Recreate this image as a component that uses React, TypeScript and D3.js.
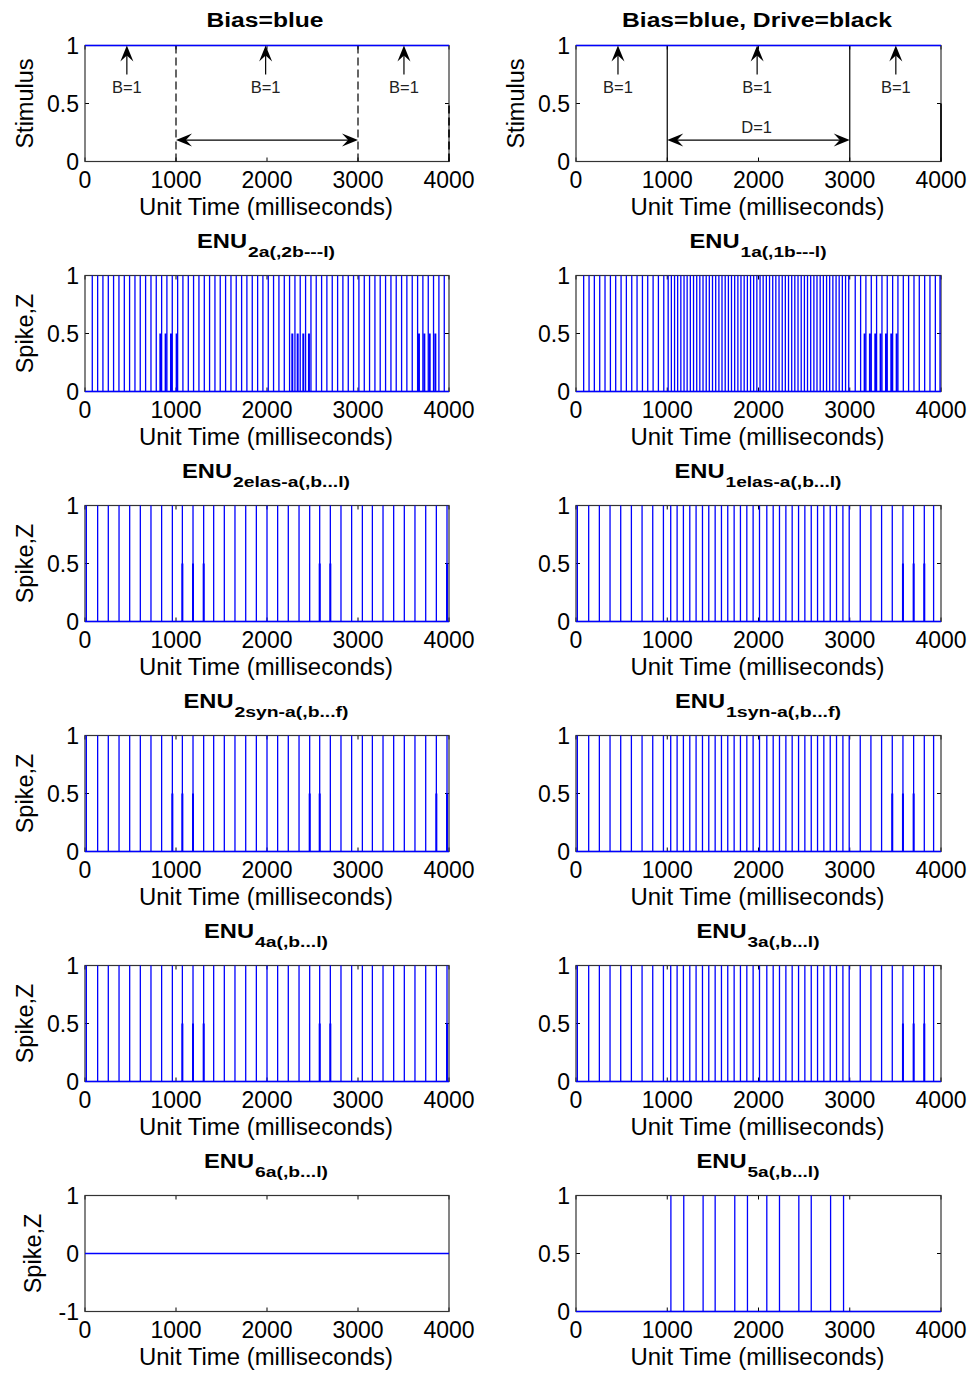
import React from 'react';
import * as d3 from 'd3';

// ---------------- data ----------------
const xTickValues = [0, 1000, 2000, 3000, 4000];
const spikeYTicks = [0, 0.5, 1];
const silentYTicks = [-1, 0, 1];

const stimTitles = ['Bias=blue', 'Bias=blue, Drive=black'];
const biasLevel = 1;
const driveEdges = [1000, 3000];
const driveTailTime = 4000;
const driveTailLevel = 0.5;
const biasArrowTimes = [460, 1985, 3505];
const biasArrowBase = 0.75;
const biasLabel = 'B=1';
const biasLabelLevel = 0.64;
const driveArrowLevel = 0.185;
const driveLabel = 'D=1';
const driveLabelLevel = 0.3;

// ENU2a (left, row 2)
const enu2aFull = [80, 139, 197, 256, 314, 373, 432, 490, 549, 607, 666, 725, 783, 842, 900, 959, 1018, 1076, 1135, 1193, 1252, 1311, 1369, 1428, 1486, 1545, 1604, 1662, 1721, 1779, 1838, 1897, 1955, 2014, 2072, 2131, 2190, 2248, 2307, 2365, 2424, 2483, 2541, 2600, 2658, 2717, 2776, 2834, 2893, 2951, 3010, 3069, 3127, 3186, 3244, 3303, 3362, 3420, 3479, 3537, 3596, 3655, 3713, 3772, 3830, 3889, 3948];
const enu2aZ = [828, 886, 945, 1007, 2278, 2337, 2399, 2461, 3670, 3729, 3788, 3850];

// ENU1a (right, row 2)
const enu1aFull = [84, 143, 201, 260, 318, 377, 435, 494, 552, 611, 669, 728, 786, 845, 903, 962,
  1010, 1045, 1080, 1114, 1149, 1184, 1218, 1253, 1288, 1323, 1357, 1392, 1427, 1461, 1496, 1531, 1566, 1600, 1635, 1670, 1704, 1739, 1774, 1808, 1843, 1878, 1913, 1947, 1982, 2017, 2051, 2086, 2121, 2156, 2190, 2225, 2260, 2294, 2329, 2364, 2398, 2433, 2468, 2503, 2537, 2572, 2607, 2641, 2676, 2711, 2746, 2780, 2815, 2850, 2884, 2919, 2954, 2989,
  3060, 3119, 3177, 3236, 3294, 3353, 3411, 3470, 3528, 3587, 3645, 3704, 3762, 3821, 3879, 3938, 3989];
const enu1aZ = [3163, 3221, 3280, 3338, 3397, 3455, 3514];

// left trains: ENU2elas-a, ENU2syn-a, ENU4a
const leftTrainFull = [15, 139, 256, 374, 491, 608, 725, 842, 960, 1070, 1187, 1304, 1414, 1531, 1648, 1766, 1883, 2000, 2117, 2234, 2352, 2469, 2579, 2696, 2813, 2930, 3048, 3158, 3275, 3392, 3509, 3626, 3744, 3861, 3978];
const enu2elasZ = [1070, 1187, 1304, 2579, 2696, 3978];
const enu2synZ = [960, 1070, 1187, 2469, 2579, 3861, 3978];
const enu4aZ = [1070, 1187, 1304, 2579, 2696, 3978];

// right trains: ENU1elas-a, ENU1syn-a, ENU3a
const rightTrainFull = [15, 139, 256, 373, 490, 607, 724, 841, 958, 1038, 1108, 1177, 1247, 1316, 1386, 1455, 1525, 1594, 1663, 1733, 1802, 1872, 1941, 2011, 2091, 2161, 2230, 2300, 2369, 2439, 2508, 2578, 2647, 2716, 2786, 2855, 2925, 2994, 3115, 3232, 3349, 3466, 3583, 3700, 3817, 3919];
const enu1elasZ = [3583, 3700, 3817];
const enu1synZ = [3466, 3583, 3700];
const enu3aZ = [3583, 3700, 3817];

// bottom row
const enu6aFull: number[] = [];
const enu5aFull = [1040, 1181, 1393, 1525, 1740, 1879, 2091, 2230, 2442, 2578, 2790, 2932];

const subtitleLeft = ['2a(,2b---l)', '2elas-a(,b...l)', '2syn-a(,b...f)', '4a(,b...l)', '6a(,b...l)'];
const subtitleRight = ['1a(,1b---l)', '1elas-a(,b...l)', '1syn-a(,b...f)', '3a(,b...l)', '5a(,b...l)'];

// ---------------- layout ----------------
const FONT = '"Liberation Sans", Arial, Helvetica, sans-serif';
const BLUE = '#0000ff';
const COLS = [
  { left: 85, width: 364, center: 266 },
  { left: 576, width: 365, center: 758 },
];
const PLOT_H = 116;
const rowTop = (r: number) => 45.5 + 230 * r;
const subW = [[87, 86], [117, 116], [114, 115], [73, 72], [73, 72]];

function arrowHead(tx: number, ty: number, angle: number, L = 16, W = 13) {
  const pts = [[0, 0], [-L, -W / 2], [-L * 0.62, 0], [-L, W / 2]];
  const c = Math.cos(angle), s = Math.sin(angle);
  return 'M' + pts.map(([px, py]) => `${tx + px * c - py * s},${ty + px * s + py * c}`).join('L') + 'Z';
}

type AxProps = {
  col: number; row: number; yDomain: [number, number]; yTicks: number[];
  yLabel?: string; yLabelOffset?: number;
  render: (x: d3.ScaleLinear<number, number>, y: d3.ScaleLinear<number, number>) => React.ReactNode;
};

function Axes({ col, row, yDomain, yTicks, yLabel, yLabelOffset = 52, render }: AxProps) {
  const { left, width } = COLS[col];
  const top = rowTop(row);
  const bottom = top + PLOT_H;
  const x = d3.scaleLinear().domain([0, 4000]).range([left, left + width]);
  const y = d3.scaleLinear().domain(yDomain).range([bottom, top]);
  const tl = 4;
  return (
    <g>
      {xTickValues.map((v) => (
        <g key={'xt' + v}>
          <line x1={x(v)} x2={x(v)} y1={bottom} y2={bottom - tl} stroke="#000" />
          <line x1={x(v)} x2={x(v)} y1={top} y2={top + tl} stroke="#000" />
        </g>
      ))}
      {yTicks.map((v) => (
        <g key={'yt' + v}>
          <line x1={left} x2={left + tl} y1={y(v)} y2={y(v)} stroke="#000" />
          <line x1={left + width} x2={left + width - tl} y1={y(v)} y2={y(v)} stroke="#000" />
        </g>
      ))}
      <rect x={left} y={top} width={width} height={PLOT_H} fill="none" stroke="#333" strokeWidth={1.2} />
      {render(x, y)}
      {xTickValues.map((v) => (
        <text key={'xl' + v} x={x(v)} y={bottom + 26} textAnchor="middle" fontSize={23} fontFamily={FONT}>{String(v)}</text>
      ))}
      {yTicks.map((v) => (
        <text key={'yl' + v} x={left - 6} y={y(v)} dy="0.36em" textAnchor="end" fontSize={23} fontFamily={FONT}>{String(v)}</text>
      ))}
      <text x={(left + left + width) / 2 - 1} y={bottom + 53.5} textAnchor="middle" fontSize={23} fontFamily={FONT}
        textLength={254} lengthAdjust="spacingAndGlyphs">Unit Time (milliseconds)</text>
      {yLabel && (
        <text transform={`translate(${left - yLabelOffset},${(top + bottom) / 2}) rotate(-90)`} textAnchor="middle" fontSize={23.5} fontFamily={FONT}>{yLabel}</text>
      )}
    </g>
  );
}

function spikes(x: d3.ScaleLinear<number, number>, y: d3.ScaleLinear<number, number>, full: number[], z: number[], key: string) {
  return (
    <g key={key}>
      <line x1={x(0)} x2={x(4000)} y1={y(0)} y2={y(0)} stroke={BLUE} strokeWidth={1.5} />
      {full.map((t, i) => (
        <line key={'f' + i} x1={x(t)} x2={x(t)} y1={y(0)} y2={y(1)} stroke={BLUE} strokeWidth={1.3} />
      ))}
      {z.map((t, i) => (
        <line key={'z' + i} x1={x(t)} x2={x(t)} y1={y(0)} y2={y(0.5)} stroke={BLUE} strokeWidth={2} />
      ))}
    </g>
  );
}

function stimulus(x: d3.ScaleLinear<number, number>, y: d3.ScaleLinear<number, number>, withDrive: boolean) {
  const dash = withDrive ? undefined : '8,4';
  const ha = y(driveArrowLevel);
  return (
    <g>
      {driveEdges.map((t) => (
        <line key={'d' + t} x1={x(t)} x2={x(t)} y1={y(0)} y2={y(1)} stroke="#000" strokeWidth={1.2} strokeDasharray={dash} />
      ))}
      <line x1={x(driveTailTime)} x2={x(driveTailTime)} y1={y(0)} y2={y(driveTailLevel)} stroke="#000" strokeWidth={1.6} strokeDasharray={dash} />
      <line x1={x(0)} x2={x(4000)} y1={y(biasLevel)} y2={y(biasLevel)} stroke={BLUE} strokeWidth={1.5} />
      {biasArrowTimes.map((t) => (
        <g key={'a' + t}>
          <line x1={x(t)} x2={x(t)} y1={y(biasArrowBase)} y2={y(1) + 8} stroke="#000" strokeWidth={1.2} />
          <path d={arrowHead(x(t), y(1), -Math.PI / 2)} fill="#000" />
          <text x={x(t)} y={y(biasLabelLevel)} dy="0.36em" textAnchor="middle" fontSize={16.5} fontFamily={FONT} fill="#222">{biasLabel}</text>
        </g>
      ))}
      <line x1={x(driveEdges[0]) + 8} x2={x(driveEdges[1]) - 8} y1={ha} y2={ha} stroke="#000" strokeWidth={1.2} />
      <path d={arrowHead(x(driveEdges[0]), ha, Math.PI)} fill="#000" />
      <path d={arrowHead(x(driveEdges[1]), ha, 0)} fill="#000" />
      {withDrive && (
        <text x={x((driveEdges[0] + driveEdges[1]) / 2 - 20)} y={y(driveLabelLevel)} dy="0.36em" textAnchor="middle" fontSize={16.5} fontFamily={FONT} fill="#222">{driveLabel}</text>
      )}
    </g>
  );
}

function Subtitle({ col, row, sub }: { col: number; row: number; sub: string }) {
  const enuW = 50;
  const sw = subW[row - 1][col];
  const total = enuW + 1 + sw;
  const start = COLS[col].center - total / 2;
  const base = rowTop(row) - 27.5;
  return (
    <g fontFamily={FONT} fontWeight="bold">
      <text x={start} y={base} fontSize={19.5} textLength={enuW} lengthAdjust="spacingAndGlyphs">ENU</text>
      <text x={start + enuW + 1} y={base + 9} fontSize={14.5} textLength={sw} lengthAdjust="spacingAndGlyphs">{sub}</text>
    </g>
  );
}

export default function App() {
  const leftData = [
    [enu2aFull, enu2aZ],
    [leftTrainFull, enu2elasZ],
    [leftTrainFull, enu2synZ],
    [leftTrainFull, enu4aZ],
    [enu6aFull, [] as number[]],
  ];
  const rightData = [
    [enu1aFull, enu1aZ],
    [rightTrainFull, enu1elasZ],
    [rightTrainFull, enu1synZ],
    [rightTrainFull, enu3aZ],
    [enu5aFull, [] as number[]],
  ];
  return (
    <svg width={974} height={1373} style={{ position: 'absolute', left: 0, top: 0, background: '#fff' }}>
      <rect x={0} y={0} width={974} height={1373} fill="#fff" />
      {stimTitles.map((t, c) => (
        <text key={'tt' + c} x={COLS[c].center - 1} y={27} textAnchor="middle" fontSize={19.5} fontWeight="bold" fontFamily={FONT}
          textLength={c === 0 ? 117 : 270} lengthAdjust="spacingAndGlyphs">{t}</text>
      ))}
      <Axes col={0} row={0} yDomain={[0, 1]} yTicks={spikeYTicks} yLabel="Stimulus" render={(x, y) => stimulus(x, y, false)} />
      <Axes col={1} row={0} yDomain={[0, 1]} yTicks={spikeYTicks} yLabel="Stimulus" render={(x, y) => stimulus(x, y, true)} />
      {leftData.map(([full, z], i) => {
        const row = i + 1;
        const silent = row === 5;
        return (
          <g key={'L' + row}>
            <Subtitle col={0} row={row} sub={subtitleLeft[i]} />
            <Axes col={0} row={row} yDomain={silent ? [-1, 1] : [0, 1]} yTicks={silent ? silentYTicks : spikeYTicks}
              yLabel="Spike,Z" yLabelOffset={silent ? 44 : 52} render={(x, y) => spikes(x, y, full, z, 'sl' + row)} />
          </g>
        );
      })}
      {rightData.map(([full, z], i) => {
        const row = i + 1;
        return (
          <g key={'R' + row}>
            <Subtitle col={1} row={row} sub={subtitleRight[i]} />
            <Axes col={1} row={row} yDomain={[0, 1]} yTicks={spikeYTicks} render={(x, y) => spikes(x, y, full, z, 'sr' + row)} />
          </g>
        );
      })}
    </svg>
  );
}
